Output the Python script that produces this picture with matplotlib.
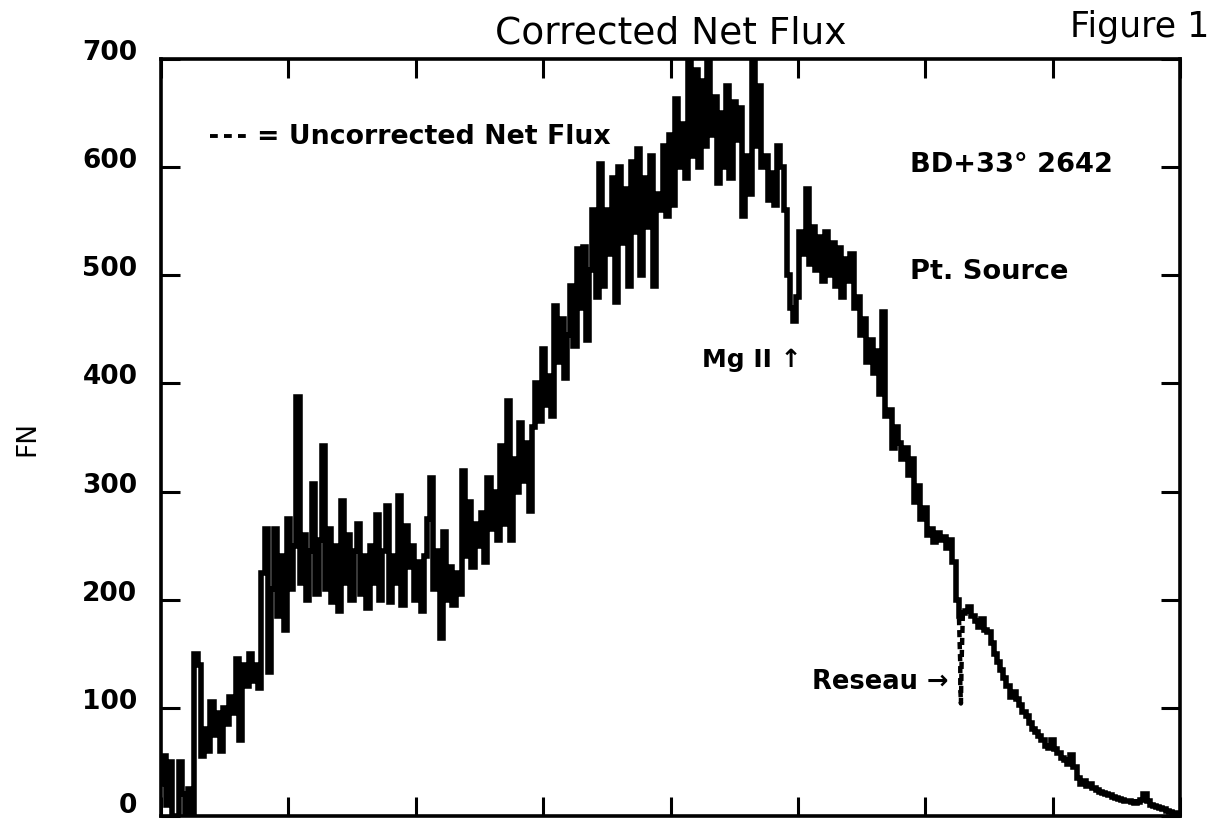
import numpy as np
import matplotlib
matplotlib.use("Agg")
import matplotlib.pyplot as plt
from matplotlib.transforms import ScaledTranslation

# ---------------------------------------------------------
# Spectrum data (wavelength in Angstrom, 5 A bins)
# ---------------------------------------------------------

wave_start = 1800
wave_step = 5

net_flux = [
    30, 55, 10, 50, 0, 0, 50, 20, 0, 25,
    0, 150, 140, 55, 80, 60, 105, 75, 95, 60,
    100, 85, 110, 95, 145, 70, 140, 120, 150, 125,
    140, 118, 225, 265, 133, 210, 265, 185, 240, 172,
    275, 210, 250, 387, 215, 260, 200, 245, 307, 205,
    255, 342, 210, 265, 198, 250, 190, 291, 215, 260,
    200, 245, 270, 205, 240, 192, 250, 215, 278, 200,
    245, 287, 198, 240, 215, 296, 195, 268, 230, 250,
    200, 235, 190, 240, 275, 313, 210, 245, 165, 263,
    200, 230, 195, 225, 205, 319, 240, 290, 230, 270,
    250, 280, 235, 313, 265, 300, 255, 342, 270, 384,
    255, 330, 300, 363, 310, 345, 282, 360, 400, 365,
    432, 380, 407, 370, 472, 420, 460, 405, 445, 490,
    435, 524, 470, 526, 440, 505, 560, 480, 603, 490,
    560, 520, 590, 475, 600, 530, 580, 490, 605, 540,
    617, 500, 590, 545, 610, 490, 575, 560, 620, 555,
    630, 565, 663, 600, 640, 590, 700, 610, 690, 600,
    680, 620, 698, 630, 665, 585, 650, 600, 675, 590,
    660, 625, 655, 555, 610, 575, 700, 620, 675, 600,
    610, 570, 595, 565, 620, 600, 560, 500, 470, 458,
    480, 540, 520, 580, 510, 545, 505, 535, 495, 540,
    500, 530, 490, 525, 480, 515, 495, 520, 470, 480,
    445, 460, 420, 440, 410, 430, 390, 466, 370, 375,
    340, 360, 345, 330, 340, 315, 330, 290, 305, 275,
    285, 260, 265, 253, 262, 255, 258, 248, 255, 235,
    200, 185, 188, 190, 193, 185, 180, 175, 182, 172,
    170, 160, 150, 142, 135, 128, 120, 110, 115, 108,
    103, 96, 92, 86, 80, 78, 74, 70, 65, 63,
    70, 62, 58, 54, 52, 48, 56, 45, 35, 30,
    32, 28, 30, 26, 24, 22, 21, 20, 19, 18,
    17, 16, 15, 14, 14, 13, 12, 13, 15, 20,
    14, 10, 9, 8, 7, 6, 5, 4, 3, 3,
    2,
]

wavelength = wave_start + wave_step * np.arange(len(net_flux))

# uncorrected flux across the reseau mark
reseau_wave = [3053, 3054, 3055, 3055, 3056, 3057, 3059]
reseau_flux = [183, 160, 140, 120, 104, 140, 186]

x_ticks = np.arange(1800, 3401, 200)
y_ticks = np.arange(0, 701, 100)

# ---------------------------------------------------------
# Figure
# ---------------------------------------------------------

plt.rcParams['font.family'] = ['DejaVu Sans']
plt.rcParams['font.weight'] = 'bold'

fig = plt.figure(figsize=(12.17, 8.2), dpi=100)
ax = fig.add_axes([0.1323, 0.0037, 0.8373, 0.9231])

ax.plot(
    wavelength,
    net_flux,
    color='black',
    linewidth=4.0,
    drawstyle='steps-mid',
    solid_joinstyle='miter'
)

ax.plot(
    reseau_wave,
    reseau_flux,
    color='black',
    linewidth=3.2,
    linestyle=(0, (1.6, 1.1))
)

ax.set_xlim(1800, 3400)
ax.set_ylim(0, 700)

ax.set_xticks(x_ticks)
ax.set_yticks(y_ticks)

ax.tick_params(
    axis='both',
    direction='in',
    length=14,
    width=2.2,
    top=True,
    right=True,
    labelbottom=False,
    labelsize=19,
    pad=17
)

# labels sit a little above their ticks; the zero label a bit more
for value, label in zip(y_ticks, ax.get_yticklabels()):
    shift = 0.14 if value == 0 else 0.1
    label.set_transform(
        label.get_transform()
        + ScaledTranslation(0, shift, fig.dpi_scale_trans)
    )

for spine in ax.spines.values():
    spine.set_linewidth(2.6)

ax.set_ylabel("FN", fontsize=19, labelpad=30)

# ---------------------------------------------------------
# Titles and annotations
# ---------------------------------------------------------

ax.set_title("Corrected Net Flux", fontsize=27, fontweight='normal', pad=12)

fig.text(0.994, 0.955, "Figure 1", fontsize=25, fontweight='normal',
         ha='right', va='baseline')

ax.plot(
    [0.048, 0.083],
    [0.898, 0.898],
    transform=ax.transAxes,
    color='black',
    linewidth=2.8,
    linestyle=(0, (2.0, 1.6))
)

ax.text(0.094, 0.898, "= Uncorrected Net Flux", transform=ax.transAxes,
        fontsize=19.3, ha='left', va='center')

ax.text(0.735, 0.861, "BD+33° 2642", transform=ax.transAxes,
        fontsize=19.6, ha='left', va='center')

ax.text(0.735, 0.72, "Pt. Source", transform=ax.transAxes,
        fontsize=19.6, ha='left', va='center')

ax.text(2649, 423, "Mg II ↑", fontsize=18, ha='left', va='center')

ax.text(2822, 125, "Reseau →", fontsize=18.5, ha='left', va='center')

plt.savefig("out.png", dpi=100)
